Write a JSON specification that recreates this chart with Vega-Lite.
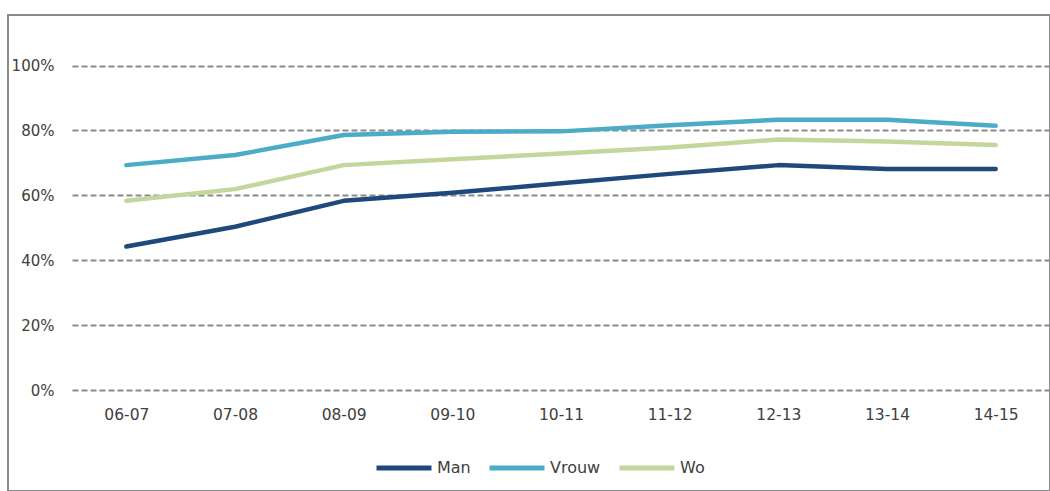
{
  "$schema": "https://vega.github.io/schema/vega-lite/v6.json",
  "width": 1042,
  "height": 476,
  "autosize": {"type": "none"},
  "padding": {"left": 8, "top": 15, "right": 0, "bottom": 0},
  "background": "white",
  "config": {
    "view": {"stroke": "#8c8c8c", "strokeWidth": 2},
    "font": "DejaVu Sans"
  },
  "data": {
    "values": [
      {"jaar": "06-07", "groep": "Man", "waarde": 0.442},
      {"jaar": "07-08", "groep": "Man", "waarde": 0.503},
      {"jaar": "08-09", "groep": "Man", "waarde": 0.583},
      {"jaar": "09-10", "groep": "Man", "waarde": 0.608},
      {"jaar": "10-11", "groep": "Man", "waarde": 0.637},
      {"jaar": "11-12", "groep": "Man", "waarde": 0.666},
      {"jaar": "12-13", "groep": "Man", "waarde": 0.693},
      {"jaar": "13-14", "groep": "Man", "waarde": 0.681},
      {"jaar": "14-15", "groep": "Man", "waarde": 0.681},
      {"jaar": "06-07", "groep": "Vrouw", "waarde": 0.693},
      {"jaar": "07-08", "groep": "Vrouw", "waarde": 0.724},
      {"jaar": "08-09", "groep": "Vrouw", "waarde": 0.786},
      {"jaar": "09-10", "groep": "Vrouw", "waarde": 0.796},
      {"jaar": "10-11", "groep": "Vrouw", "waarde": 0.797},
      {"jaar": "11-12", "groep": "Vrouw", "waarde": 0.816},
      {"jaar": "12-13", "groep": "Vrouw", "waarde": 0.833},
      {"jaar": "13-14", "groep": "Vrouw", "waarde": 0.833},
      {"jaar": "14-15", "groep": "Vrouw", "waarde": 0.814},
      {"jaar": "06-07", "groep": "Wo", "waarde": 0.583},
      {"jaar": "07-08", "groep": "Wo", "waarde": 0.619},
      {"jaar": "08-09", "groep": "Wo", "waarde": 0.693},
      {"jaar": "09-10", "groep": "Wo", "waarde": 0.711},
      {"jaar": "10-11", "groep": "Wo", "waarde": 0.729},
      {"jaar": "11-12", "groep": "Wo", "waarde": 0.747},
      {"jaar": "12-13", "groep": "Wo", "waarde": 0.772},
      {"jaar": "13-14", "groep": "Wo", "waarde": 0.766},
      {"jaar": "14-15", "groep": "Wo", "waarde": 0.755}
    ]
  },
  "mark": {"type": "line", "strokeWidth": 4.5, "strokeCap": "round", "strokeJoin": "round"},
  "encoding": {
    "x": {
      "field": "jaar",
      "type": "ordinal",
      "sort": null,
      "scale": {"type": "point", "range": [64, 1042], "padding": 0.5},
      "axis": {
        "title": null,
        "orient": "bottom",
        "offset": -101,
        "ticks": false,
        "domain": false,
        "labelAngle": 0,
        "labelPadding": 17,
        "labelFontSize": 15.5,
        "labelColor": "#404040",
        "grid": false
      }
    },
    "y": {
      "field": "waarde",
      "type": "quantitative",
      "scale": {"domain": [0, 1], "range": [375, 50.5], "nice": false, "zero": false},
      "axis": {
        "title": null,
        "format": ".0%",
        "values": [0, 0.2, 0.4, 0.6, 0.8, 1],
        "offset": -52,
        "ticks": false,
        "domain": false,
        "labelPadding": 6,
        "labelFontSize": 15,
        "labelColor": "#404040",
        "grid": true,
        "gridDash": [6, 3],
        "gridColor": "#8a8a8a",
        "gridWidth": 2,
        "gridOpacity": 1
      }
    },
    "color": {
      "field": "groep",
      "type": "nominal",
      "scale": {"domain": ["Man", "Vrouw", "Wo"], "range": ["#1F497D", "#4BACC6", "#C3D69B"]},
      "legend": {
        "title": null,
        "orient": "none",
        "legendX": 366,
        "legendY": 423,
        "direction": "horizontal",
        "symbolType": "stroke",
        "symbolSize": 3025,
        "symbolStrokeWidth": 5,
        "labelFontSize": 16,
        "labelColor": "#404040",
        "labelOffset": 3,
        "columnPadding": 8
      }
    }
  }
}
